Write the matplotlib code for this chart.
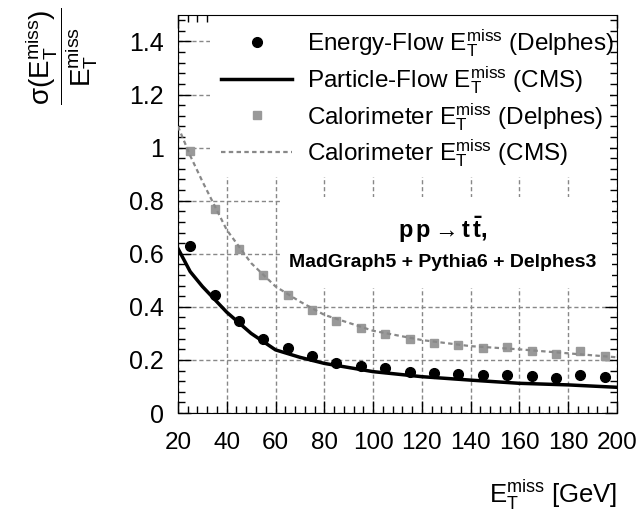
import matplotlib
matplotlib.use("Agg")
from matplotlib import pyplot as plt
from matplotlib.patches import Rectangle
from matplotlib.ticker import MultipleLocator

plt.rcParams['font.family'] = ['Liberation Sans', 'DejaVu Sans']
plt.rcParams['mathtext.fontset'] = 'custom'
plt.rcParams['mathtext.rm'] = 'Liberation Sans'
plt.rcParams['mathtext.it'] = 'Liberation Sans:italic'
plt.rcParams['mathtext.bf'] = 'Liberation Sans:bold'

# binned Delphes points (bin centres)
bin_x = [25, 35, 45, 55, 65, 75, 85, 95, 105, 115, 125, 135, 145, 155, 165, 175, 185, 195]
eflow_delphes = [0.63, 0.445, 0.348, 0.279, 0.244, 0.216, 0.19, 0.177, 0.169, 0.156,
                 0.152, 0.147, 0.143, 0.143, 0.14, 0.131, 0.143, 0.137]
calo_delphes = [0.986, 0.769, 0.619, 0.521, 0.445, 0.389, 0.348, 0.32, 0.298, 0.278,
                0.265, 0.257, 0.244, 0.248, 0.235, 0.223, 0.235, 0.215]

# CMS reference curves
cms_x = [20, 25, 30, 40, 50, 60, 70, 80, 100, 120, 140, 160, 180, 200]
pf_cms = [0.62, 0.533, 0.477, 0.38, 0.30, 0.238, 0.21, 0.187, 0.156, 0.137, 0.124, 0.112, 0.106, 0.097]
calo_cms = [1.08, 0.97, 0.873, 0.69, 0.565, 0.477, 0.42, 0.37, 0.31, 0.275, 0.252, 0.24, 0.225, 0.21]

labels = [r'Energy-Flow $\mathrm{E}_{\mathrm{T}}^{\mathrm{miss}}$ (Delphes)',
          r'Particle-Flow $\mathrm{E}_{\mathrm{T}}^{\mathrm{miss}}$ (CMS)',
          r'Calorimeter $\mathrm{E}_{\mathrm{T}}^{\mathrm{miss}}$ (Delphes)',
          r'Calorimeter $\mathrm{E}_{\mathrm{T}}^{\mathrm{miss}}$ (CMS)']

fig = plt.figure(figsize=(6.37, 5.15), dpi=100)
ax = fig.add_axes([0.2794, 0.198, 0.689, 0.773])
ax.set_axisbelow(True)

h1, = ax.plot(bin_x, eflow_delphes, 'o', color='black', ms=7, zorder=3)
h2, = ax.plot(cms_x, pf_cms, '-', color='black', lw=2.5, zorder=3)
h3, = ax.plot(bin_x, calo_delphes, 's', color='#999999', ms=5.5, zorder=3)
h4, = ax.plot(cms_x, calo_cms, color='#888888', lw=1.6, ls=(0, (2, 1.5)), zorder=3)

ax.set_xlim(20, 200)
ax.set_ylim(0, 1.5)
ax.xaxis.set_major_locator(MultipleLocator(20))
ax.xaxis.set_minor_locator(MultipleLocator(4))
ax.yaxis.set_major_locator(MultipleLocator(0.2))
ax.yaxis.set_minor_locator(MultipleLocator(0.04))
ax.yaxis.set_major_formatter(matplotlib.ticker.FuncFormatter(lambda v, p: '%g' % round(v, 2)))
ax.tick_params(which='both', direction='in', top=True, right=True, labelsize=17.5)
ax.tick_params(axis='y', labelsize=18)
ax.tick_params(which='major', length=9, width=1)
ax.tick_params(which='minor', length=5, width=1)
ax.tick_params(axis='x', pad=13.5)
ax.tick_params(axis='y', pad=10)
ax.grid(True, which='major', color='#888888', ls=(0, (3, 2)), lw=1)

# white areas behind legend and text
ax.add_patch(Rectangle((0.073, 0.593), 0.912, 0.407, transform=ax.transAxes,
                       facecolor='white', edgecolor='none', zorder=1))
ax.add_patch(Rectangle((0.232, 0.314), 0.757, 0.229, transform=ax.transAxes,
                       facecolor='white', edgecolor='none', zorder=1))

ax.legend([h1, h2, h3, h4], labels, loc='upper right', bbox_to_anchor=(1.0, 0.974),
          frameon=False, fontsize=17.5, handlelength=2.92, handletextpad=0.62,
          labelspacing=0.2, borderaxespad=0.0, borderpad=0.1)

ax.text(0.604, 0.46, r'$\mathbf{p\,p \rightarrow t\,\bar{t}}$,', transform=ax.transAxes,
        ha='center', va='center', fontsize=17, fontweight='bold')
ax.text(0.604, 0.377, 'MadGraph5 + Pythia6 + Delphes3', transform=ax.transAxes,
        ha='center', va='center', fontsize=14, fontweight='bold')

fig.text(0.097, 0.985, r'$\dfrac{\mathrm{\sigma}(\mathrm{E}_{\mathrm{T}}^{\mathrm{miss}})}{\mathrm{E}_{\mathrm{T}}^{\mathrm{miss}}}$',
         rotation=90, ha='center', va='top', fontsize=20)
fig.text(0.969, 0.024, r'$\mathrm{E}_{\mathrm{T}}^{\mathrm{miss}}$ [GeV]', ha='right',
         va='baseline', fontsize=18.5)

fig.savefig('out.png', dpi=100)
